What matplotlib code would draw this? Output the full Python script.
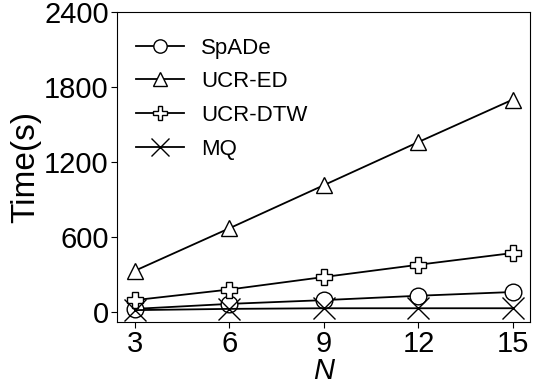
import matplotlib
matplotlib.use("Agg")
import matplotlib.pyplot as plt

N = [3, 6, 9, 12, 15]
spade = [25, 65, 95, 130, 160]
ucr_ed = [330, 670, 1015, 1360, 1700]
ucr_dtw = [95, 180, 280, 378, 472]
mq = [15, 25, 30, 30, 30]
yticks = [0, 600, 1200, 1800, 2400]

plt.rcParams['font.family'] = ['Liberation Sans', 'DejaVu Sans']
fig = plt.figure(figsize=(5.34, 3.9), dpi=100)
ax = fig.add_axes([117/534, 1-322/390, 413/534, 310/390])

kw = dict(color='black', lw=1.3, markerfacecolor='white', markeredgecolor='black', markersize=12, markeredgewidth=1.0)
ax.plot(N, spade, marker='o', label='SpADe', **kw)
ax.plot(N, ucr_ed, marker='^', label='UCR-ED', **kw)
ax.plot(N, ucr_dtw, marker='P', label='UCR-DTW', **kw)
ax.plot(N, mq, marker='x', label='MQ', color='black', lw=1.3, markersize=16, markeredgewidth=1.0)

ax.set_xlim(2.43, 15.54)
ax.set_ylim(-80, 2400)
ax.set_xticks(N)
ax.set_yticks(yticks)
ax.tick_params(labelsize=21, length=4, pad=2)
ax.set_xlabel('N', fontsize=21, fontstyle='italic', labelpad=-1)
ax.set_ylabel('Time(s)', fontsize=24, labelpad=2)
leg = ax.legend(loc='upper left', bbox_to_anchor=(-0.017, 1.0), fontsize=16, frameon=False, handlelength=2.2,
                borderaxespad=0.75, labelspacing=0.57, markerscale=0.8, handletextpad=0.75)
fig.savefig('out.png', dpi=100)
